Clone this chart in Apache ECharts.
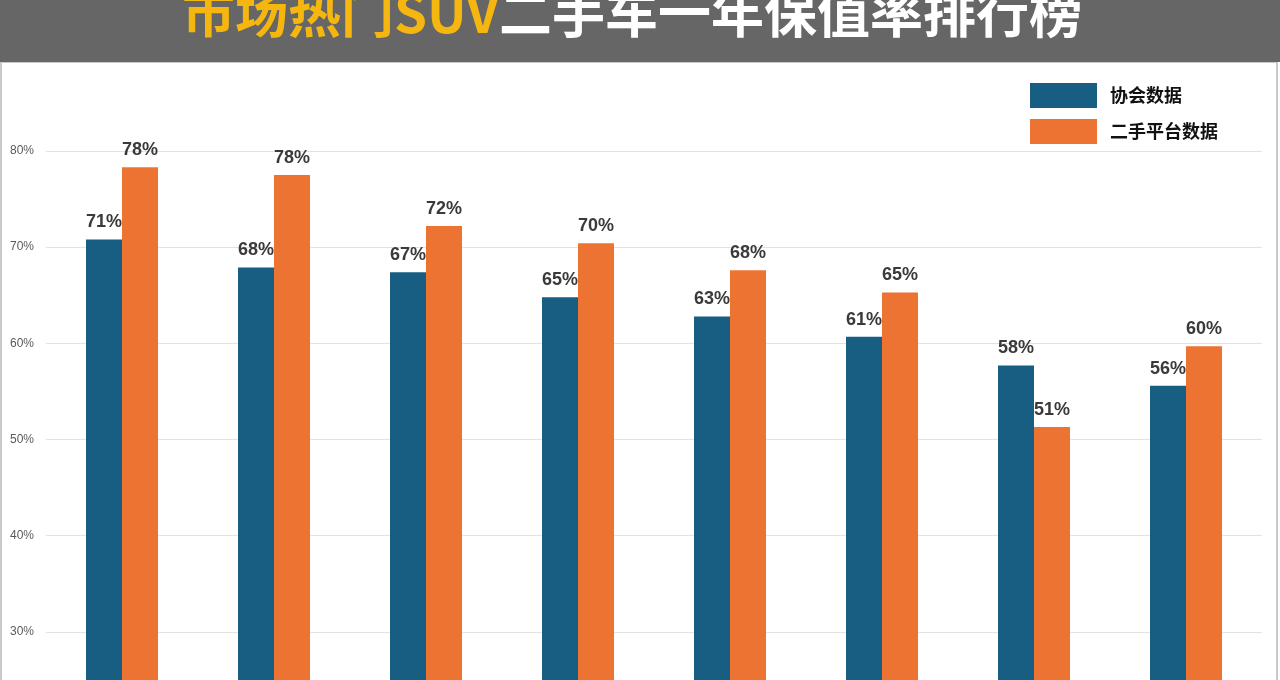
<!DOCTYPE html>
<html>
<head>
<meta charset="utf-8">
<script src="https://cdn.jsdelivr.net/npm/echarts@6/dist/echarts.min.js"></script>
<style>html,body{margin:0;padding:0;background:#fff;}#c{width:1280px;height:680px;}</style>
</head>
<body>
<div id="c"></div>
<script>
const categories = ['车型1', '车型2', '车型3', '车型4', '车型5', '车型6', '车型7', '车型8'];
const seriesNames = ['协会数据', '二手平台数据'];
const associationData = [70.8, 67.9, 67.4, 64.8, 62.8, 60.7, 57.7, 55.6];
const platformData = [78.3, 77.5, 72.2, 70.4, 67.6, 65.3, 51.3, 59.7];
const yMin = 25;
const yMax = 80;
const titleMain = '市场热门SUV';
const titleRest = '二手车一年保值率排行榜';

const chart = echarts.init(document.getElementById('c'));
const labelStyle = {
  show: true, position: 'top', distance: 8,
  fontSize: 18, fontWeight: 'bold', color: '#3a3a3a',
  fontFamily: 'Liberation Sans, Arial, sans-serif',
  formatter: p => Math.round(p.value) + '%'
};
chart.setOption({
  animation: false,
  backgroundColor: '#ffffff',
  graphic: [
    { type: 'rect', z: -10, shape: { x: 1, y: 62, width: 1276, height: 700 }, style: { fill: '#fff', stroke: '#c9c9c9', lineWidth: 2 } },
    { type: 'rect', z: -5, shape: { x: 0, y: 0, width: 1280, height: 62 }, style: { fill: '#666666' } }
  ],
  title: {
    text: '{a|' + titleMain + '}{b|' + titleRest + '}',
    left: 182, top: -14, z: 10, padding: 0,
    textStyle: {
      rich: {
        a: { fontSize: 53, fontWeight: 'bold', color: '#F6B610', fontFamily: 'Noto Sans CJK SC' },
        b: { fontSize: 53, fontWeight: 'bold', color: '#ffffff', fontFamily: 'Noto Sans CJK SC' }
      }
    }
  },
  legend: {
    orient: 'vertical', left: 1025, top: 78,
    itemWidth: 67, itemHeight: 25, itemGap: 11,
    icon: 'rect',
    textStyle: { fontSize: 18, fontWeight: 'bold', color: '#111', fontFamily: 'Noto Sans CJK SC', padding: [0, 0, 0, 8] },
    data: seriesNames
  },
  grid: { left: 46, right: 18, top: 151, bottom: 0, containLabel: false },
  xAxis: {
    type: 'category', data: categories,
    axisLine: { show: false }, axisTick: { show: false }, axisLabel: { show: false }
  },
  yAxis: {
    type: 'value', min: yMin, max: yMax, splitNumber: 5,
    axisLine: { show: false }, axisTick: { show: false },
    axisLabel: { showMinLabel: false, formatter: v => (v % 10 === 0 ? v + '%' : ''), fontSize: 12, color: '#5a5a5a', margin: 12, fontFamily: 'Liberation Sans, Arial, sans-serif' },
    splitLine: { lineStyle: { color: '#e2e2e2', width: 1 } }
  },
  series: [
    { name: seriesNames[0], type: 'bar', data: associationData, barWidth: 36, barGap: '0%', itemStyle: { color: '#175E82' }, label: labelStyle },
    { name: seriesNames[1], type: 'bar', data: platformData, barWidth: 36, barGap: '0%', itemStyle: { color: '#EC7331' }, label: labelStyle }
  ]
});
</script>
</body>
</html>
